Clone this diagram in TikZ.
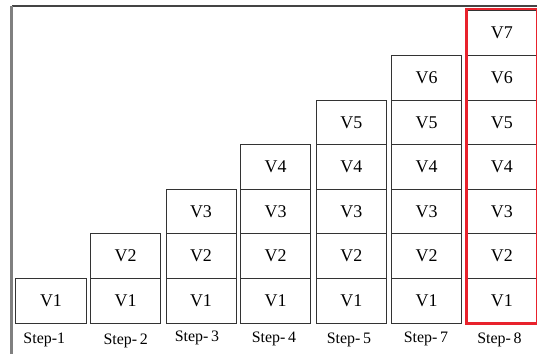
\documentclass[tikz,border=0pt]{standalone}
\usepackage{fontspec}
\setmainfont{Liberation Serif}
\definecolor{frameline}{HTML}{444444}
\definecolor{cellline}{HTML}{333333}
\definecolor{hilite}{HTML}{E8222C}
\begin{document}
\begin{tikzpicture}[x=1bp,y=-1bp,
  cell/.style={draw=cellline,line width=1bp,rectangle,minimum width=70bp,
    minimum height=44.6bp,inner sep=0pt,font=\fontsize{18}{20}\selectfont},
  steplabel/.style={inner sep=0pt,font=\fontsize{16}{18}\selectfont}]
\useasboundingbox (0,0) rectangle (537,354);
% outer frame: top and left edges only
\draw[frameline,line width=1.2bp] (537,6) -- (11.5,6);
\draw[gray,line width=2.2bp] (11.5,6) -- (11.5,354);
% stacks of cells, one column per step
\foreach \s/\x/\n in {1/51/1, 2/125.7/2, 3/201/3, 4/275.7/4, 5/351.3/5, 7/426.7/6, 8/501.8/7}{
  \foreach \v in {1,...,\n}{
    \node[cell] (s\s v\v) at (\x,{323-44.6*(\v-0.5)}) {V\v};
  }
}
% step captions
\node[steplabel] (l1) at (44.3,340) {Step-1};
\node[steplabel] (l2) at (125.7,340.5) {Step-\,2};
\node[steplabel] (l3) at (197,338) {Step-\,3};
\node[steplabel] (l4) at (274,339) {Step-\,4};
\node[steplabel] (l5) at (349,340) {Step-\,5};
\node[steplabel] (l7) at (426,339) {Step-\,7};
\node[steplabel] (l8) at (499.5,339.5) {Step-\,8};
% highlighted final column
\draw[hilite,line width=2.5bp] ([yshift=1.5bp]s8v7.north west) rectangle (s8v1.south east);
\end{tikzpicture}
\end{document}
